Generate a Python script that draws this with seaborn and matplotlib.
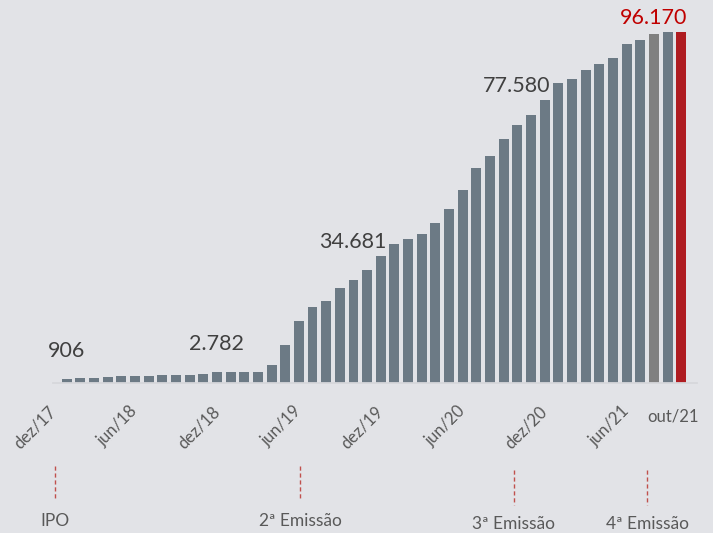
import matplotlib
matplotlib.use("Agg")
import matplotlib.pyplot as plt
import matplotlib.transforms as mtransforms
import seaborn as sns
import pandas as pd

# monthly cumulative values, dez/17 .. out/21 (dez/17 has no bar)
month_abbr = ["jan", "fev", "mar", "abr", "mai", "jun", "jul", "ago", "set", "out", "nov", "dez"]
months = ["dez/17"] + [f"{m}/{y}" for y in (18, 19, 20, 21) for m in month_abbr][:46]
values = [0, 906, 1150, 1150, 1500, 1700, 1780, 1780, 1980, 2140, 2140, 2330,
          2782, 2880, 2960, 2960, 4720, 10200, 16960, 20720, 22360, 25930, 28130,
          30870, 34681, 38000, 39380, 40830, 43770, 47610, 52820, 58860, 62150,
          66820, 70660, 73400, 77580, 82190, 83200, 85760, 87480, 89050, 92890,
          93990, 95630, 96170, 96170]

tick_labels = ["dez/17", "jun/18", "dez/18", "jun/19", "dez/19", "jun/20", "dez/20", "jun/21"]
last_label = "out/21"

# labelled bars: month, text
value_labels = [("jan/18", "906"), ("dez/18", "2.782"), ("dez/19", "34.681"),
                ("dez/20", "77.580"), ("out/21", "96.170")]

# events (position in months from dez/17) and names
event_pos = [0.15, 18.1, 33.75, 43.5]
event_names = ["IPO", "2ª Emissão", "3ª Emissão", "4ª Emissão"]

BG = "#E2E3E7"
BAR = "#6C7A85"
GREY = "#808080"
RED = "#AF1C21"
TXT = "#404040"

colors = {m: BAR for m in months}
colors["ago/21"] = GREY
colors["out/21"] = RED

df = pd.DataFrame({"month": months, "value": values})

sns.set_style("white")
plt.rcParams["font.family"] = ["Lato", "DejaVu Sans"]

fig = plt.figure(figsize=(7.13, 5.33), dpi=100, facecolor=BG)
ax = fig.add_axes([53 / 713, (533 - 382.5) / 533, 644 / 713, 364.5 / 533])
ax.set_facecolor(BG)

sns.barplot(data=df, x="month", y="value", hue="month", palette=colors,
            order=months, legend=False, width=0.73, saturation=1,
            linewidth=0, edgecolor="none", ax=ax)

ax.set_xlim(0, 47.15)
ax.set_ylim(0, 100000)
ax.set_xlabel("")
ax.set_ylabel("")
ax.set_yticks([])
for s in ["top", "right", "left"]:
    ax.spines[s].set_visible(False)
ax.spines["bottom"].set_color("#D6D7DB")
ax.spines["bottom"].set_linewidth(1.3)

ax.set_xticks([months.index(t) for t in tick_labels])
ax.set_xticklabels(tick_labels)
ax.tick_params(axis="x", length=5, width=1, color="#D6D7DB", pad=14,
               labelsize=12, labelcolor="#595959")
plt.setp(ax.get_xticklabels(), rotation=45, ha="right", va="center",
         rotation_mode="anchor")
ax.text(45.4, -0.094, last_label,
        transform=mtransforms.blended_transform_factory(ax.transData, ax.transAxes),
        ha="center", va="center", fontsize=12, color="#595959")

# value labels
for m, txt in value_labels:
    i = months.index(m)
    v = values[i]
    if v < 10000:
        ax.annotate(txt, (i, v), xytext=(0, 13), textcoords="offset points",
                    ha="center", va="bottom", fontsize=15.5, color=TXT)
    else:
        col = "#C00000" if m == "out/21" else TXT
        ax.annotate(txt, (i + 0.4, v), xytext=(0, 3), textcoords="offset points",
                    ha="right", va="bottom", fontsize=15.5, color=col,
                    annotation_clip=False)

# event markers below the axis
trans = mtransforms.blended_transform_factory(ax.transData, fig.transFigure)
for k, (p, name) in enumerate(zip(event_pos, event_names)):
    y0 = 1 - 466 / 533 if k < 2 else 1 - 470 / 533
    y1 = 1 - 500 / 533 if k < 2 else 1 - 505 / 533
    ax.plot([p, p], [y0, y1], transform=trans, clip_on=False, color="#C0504D",
            lw=1, linestyle=(0, (3, 2)))
    ty = 1 - 521 / 533 if k < 2 else 1 - 524 / 533
    ax.text(p, ty, name, transform=trans, ha="center", va="center",
            fontsize=12.5, color="#595959")

fig.savefig("out.png", dpi=100, facecolor=BG)
